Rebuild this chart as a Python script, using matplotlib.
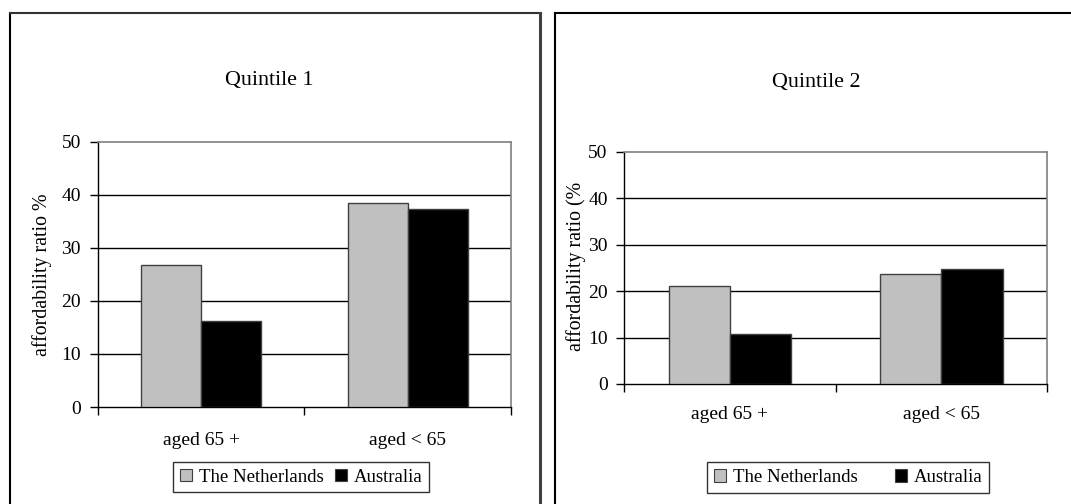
import matplotlib
matplotlib.use('Agg')
import matplotlib.pyplot as plt
from matplotlib.lines import Line2D
from matplotlib.patches import Patch

plt.rcParams['font.family'] = ['Liberation Serif', 'DejaVu Serif']

# Affordability ratio by age group, two income quintiles
groups = ['aged 65 +', 'aged < 65']
countries = ['The Netherlands', 'Australia']
q1_netherlands = [26.7, 38.5]
q1_australia = [16.2, 37.3]
q2_netherlands = [21.1, 23.7]
q2_australia = [10.7, 24.7]
y_ticks = [0, 10, 20, 30, 40, 50]

colors = ['#c0c0c0', '#000000']

fig = plt.figure(figsize=(10.71, 5.04), dpi=100)
W, H = 1071, 504


def px(x0, y0, x1, y1):
    # pixel box -> figure fraction [left, bottom, width, height]
    return [x0 / W, 1 - y1 / H, (x1 - x0) / W, (y1 - y0) / H]


def panel(rect, nl, au, title, title_xy, ylabel, ylab_xy, pad_x, legend_xy, colspace):
    ax = fig.add_axes(px(*rect))
    w = 0.29
    x = range(len(groups))
    ax.bar([i - w / 2 for i in x], nl, w, color=colors[0], edgecolor='#404040', lw=1, zorder=3)
    ax.bar([i + w / 2 for i in x], au, w, color=colors[1], edgecolor='#404040', lw=1, zorder=3)
    ax.set_xlim(-0.5, 1.5)
    ax.set_ylim(0, 50)
    ax.set_yticks(y_ticks)
    ax.set_yticks([], minor=True)
    for v in y_ticks[1:-1]:
        ax.axhline(v, color='black', lw=1, zorder=1)
    ax.set_xticks(list(x))
    ax.set_xticklabels(groups, fontsize=14)
    ax.set_xticks([-0.5, 0.5, 1.5], minor=True)
    ax.tick_params(axis='x', which='major', length=0, pad=pad_x)
    ax.tick_params(axis='x', which='minor', length=6, width=1, direction='out')
    ax.tick_params(axis='y', length=6, width=1, direction='out', labelsize=14, pad=6)
    for s in ['top', 'right']:
        ax.spines[s].set_color('#808080')
        ax.spines[s].set_linewidth(1.2)
    for s in ['left', 'bottom']:
        ax.spines[s].set_color('black')
        ax.spines[s].set_linewidth(1)
    ax.set_ylabel(ylabel, fontsize=14.3)
    ax.yaxis.set_label_coords(*ylab_xy)
    fig.text(title_xy[0] / W, 1 - title_xy[1] / H, title, fontsize=15.8,
             ha='center', va='center')
    handles = [Patch(facecolor=c, edgecolor='#404040', lw=0.8) for c in colors]
    leg = fig.legend(handles, countries, loc='center',
                     bbox_to_anchor=(legend_xy[0] / W, 1 - legend_xy[1] / H),
                     ncol=2, fontsize=13.5, frameon=True, fancybox=False,
                     handlelength=0.65, handleheight=0.65, handletextpad=0.35,
                     columnspacing=colspace, borderpad=0.35)
    leg.get_frame().set_edgecolor('black')
    leg.get_frame().set_linewidth(1)
    return ax


panel((97.7, 141.7, 511, 407), q1_netherlands, q1_australia, 'Quintile 1', (268.9, 80),
      'affordability ratio %', (-0.11, 0.5), 18, (301, 477), 0.6)
panel((624.3, 151.7, 1047, 384), q2_netherlands, q2_australia, 'Quintile 2', (816.7, 82),
      'affordability ratio (%', (-0.09, 0.505), 16, (848.3, 477.5), 2.0)

# outer frames round each chart
def fline(xs, ys, **kw):
    fig.add_artist(Line2D([v / W for v in xs], [1 - v / H for v in ys],
                          transform=fig.transFigure, **kw))

fline([10, 10], [13, 504], color='black', lw=1.5)
fline([10, 540], [13, 13], color='#333333', lw=1.5)
fline([540, 540], [13, 504], color='#404040', lw=2.2)
fline([555, 555], [13, 504], color='black', lw=1.5)
fline([555, 1071], [13, 13], color='black', lw=1.5)

fig.savefig('out.png', dpi=100)
